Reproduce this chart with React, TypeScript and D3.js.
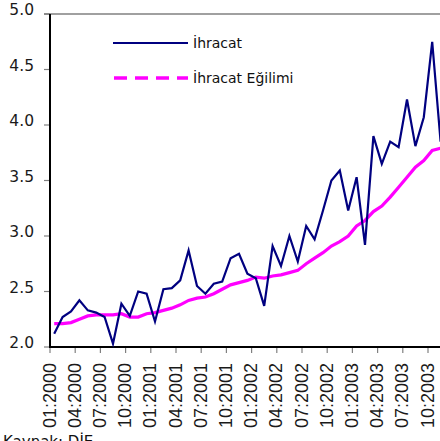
import React from "react";
import * as d3 from "d3";

const months: string[] = [];
for (let y = 2000; y <= 2003; y++) {
  for (let m = 1; m <= 12; m++) months.push(`${String(m).padStart(2, "0")}:${y}`);
}

const exports_ = [
  2.12, 2.27, 2.32, 2.42, 2.33, 2.31, 2.27, 2.03, 2.39, 2.28, 2.50, 2.48,
  2.23, 2.52, 2.53, 2.60, 2.87, 2.55, 2.48, 2.57, 2.59, 2.80, 2.84, 2.66,
  2.62, 2.37, 2.91, 2.73, 3.00, 2.77, 3.09, 2.97, 3.23, 3.50, 3.59, 3.23,
  3.53, 2.92, 3.90, 3.65, 3.85, 3.80, 4.23, 3.81, 4.07, 4.75, 3.85,
];

const trend = [
  2.21, 2.21, 2.22, 2.25, 2.28, 2.29, 2.29, 2.29, 2.30, 2.27, 2.27, 2.30,
  2.31, 2.33, 2.35, 2.38, 2.42, 2.44, 2.45, 2.48, 2.52, 2.56, 2.58, 2.60,
  2.63, 2.62, 2.64, 2.65, 2.67, 2.69, 2.75, 2.80, 2.85, 2.91, 2.95, 3.00,
  3.09, 3.14, 3.22, 3.27, 3.35, 3.44, 3.53, 3.62, 3.68, 3.77, 3.79,
];

const yTicks = [2.0, 2.5, 3.0, 3.5, 4.0, 4.5, 5.0];
const tickLabels = months.filter((_, i) => i % 3 === 0);
const seriesNames = ["İhracat", "İhracat Eğilimi"];
const source = "Kaynak: DİE";

const W = 440;
const H = 441;
const left = 50;
const top = 14;
const bottom = 347;
const step = 8.4;

export default function App() {
  const x = d3
    .scaleBand<string>()
    .domain(months)
    .range([left, left + step * months.length])
    .padding(0);
  const y = d3.scaleLinear().domain([2, 5]).range([bottom, top]);
  const cx = (i: number) => (x(months[i]) as number) + x.bandwidth() / 2;

  const line = d3
    .line<number>()
    .x((_, i) => cx(i))
    .y((d) => y(d));

  return (
    <div style={{ position: "fixed", left: 0, top: 0 }}>
      <svg width={W} height={H} style={{ display: "block", background: "#fff" }}>
        {/* top border */}
        <line x1={44} x2={W} y1={top} y2={top} stroke="#808080" strokeWidth={1.5} />
        {/* y ticks */}
        {yTicks.map((t) => (
          <g key={t}>
            <line x1={44} x2={left} y1={y(t)} y2={y(t)} stroke="#808080" strokeWidth={1.2} />
            <text
              x={34}
              y={y(t) + 1}
              textAnchor="end"
              fontFamily="DejaVu Sans"
              fontSize={15.5}
              fill="#1a1a1a"
            >
              {t.toFixed(1)}
            </text>
          </g>
        ))}
        {/* x ticks & labels */}
        {tickLabels.map((m) => {
          const tx = x(m) as number;
          return (
            <g key={m}>
              <line x1={tx} x2={tx} y1={bottom} y2={bottom + 6} stroke="#808080" strokeWidth={1.2} />
              <text
                transform={`translate(${tx + 5.5},${363}) rotate(-90)`}
                textAnchor="end"
                fontFamily="Liberation Sans"
                fontSize={18}
                fill="#1a1a1a"
              >
                {m}
              </text>
            </g>
          );
        })}
        {/* axes */}
        <line x1={left} x2={left} y1={top} y2={bottom + 1} stroke="#000" strokeWidth={2} />
        <line x1={left} x2={W} y1={bottom} y2={bottom} stroke="#000" strokeWidth={2} />

        {/* series */}
        <path d={line(trend) || ""} fill="none" stroke="#FF00FF" strokeWidth={3.2} />
        <path d={line(exports_) || ""} fill="none" stroke="#000080" strokeWidth={2.2} strokeLinejoin="miter" />

        {/* legend */}
        <line x1={113} x2={188} y1={43} y2={43} stroke="#000080" strokeWidth={2.2} />
        <text x={193} y={48} fontFamily="DejaVu Sans" fontSize={14} fill="#111">
          {seriesNames[0]}
        </text>
        <line
          x1={114}
          x2={188}
          y1={78}
          y2={78}
          stroke="#FF00FF"
          strokeWidth={3.5}
          strokeDasharray="13,8"
        />
        <text x={193} y={83} fontFamily="DejaVu Sans" fontSize={14} fill="#111">
          {seriesNames[1]}
        </text>

        {/* source */}
        <text x={3} y={447} fontFamily="DejaVu Sans" fontSize={15} fill="#111">
          {source}
        </text>
      </svg>
    </div>
  );
}
